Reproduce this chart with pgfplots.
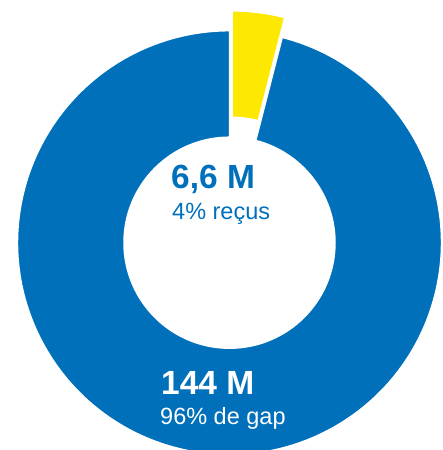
\documentclass[border=0pt]{standalone}
\usepackage{pgfplots}
\pgfplotsset{compat=1.18}
\usepackage{fontspec}
\setmainfont{Liberation Sans}
\definecolor{donutblue}{RGB}{0,112,187}
\definecolor{donutyellow}{RGB}{252,232,0}
% share values (percent): recus 4, gap 96
\def\valRecus{4}
\def\valGap{96}
\def\cx{229.5}
\def\cy{207.3}
\def\Rout{212}
\def\Rin{105.5}
\begin{document}
\begin{tikzpicture}
\begin{axis}[
  width=442pt, height=450pt, scale only axis,
  xmin=0, xmax=442, ymin=0, ymax=450,
  hide axis, clip=true,
]
\pgfmathsetmacro{\aStart}{90}
\pgfmathsetmacro{\aMid}{90-3.6*\valRecus}
\pgfmathsetmacro{\aEnd}{\aMid-3.6*\valGap}
\pgfmathsetmacro{\aBis}{(\aStart+\aMid)/2}
\begin{scope}[shift={(axis cs:\cx,\cy)}]
  % blue (gap) sector
  \fill[donutblue, draw=white, line width=1.5pt]
    (\aMid:\Rout pt) arc[start angle=\aMid, end angle=\aEnd, radius=\Rout pt]
    -- (\aEnd:\Rin pt) arc[start angle=\aEnd, end angle=\aMid, radius=\Rin pt] -- cycle;
  % yellow (recus) sector, exploded
  \begin{scope}[shift={(\aBis:20pt)}]
  \fill[donutyellow, draw=white, line width=1.5pt]
    (\aStart:\Rout pt) arc[start angle=\aStart, end angle=\aMid, radius=\Rout pt]
    -- (\aMid:\Rin pt) arc[start angle=\aMid, end angle=\aStart, radius=\Rin pt] -- cycle;
  \end{scope}
\end{scope}
\node[anchor=base west, inner sep=0, text=donutblue, font=\fontsize{33.5}{38}\selectfont\bfseries] at (axis cs:171,261) {6,6 M};
\node[anchor=base west, inner sep=0, text=donutblue, font=\fontsize{23.5}{27}\selectfont] at (axis cs:172,230) {4\% reçus};
\node[anchor=base west, inner sep=0, text=white, font=\fontsize{33.5}{38}\selectfont\bfseries] at (axis cs:161,55) {144 M};
\node[anchor=base west, inner sep=0, text=white, font=\fontsize{23.5}{27}\selectfont] at (axis cs:160,25) {96\% de gap};
\end{axis}
\pgfresetboundingbox
\path[use as bounding box] (0,0) rectangle (442pt,450pt);
\end{tikzpicture}
\end{document}
